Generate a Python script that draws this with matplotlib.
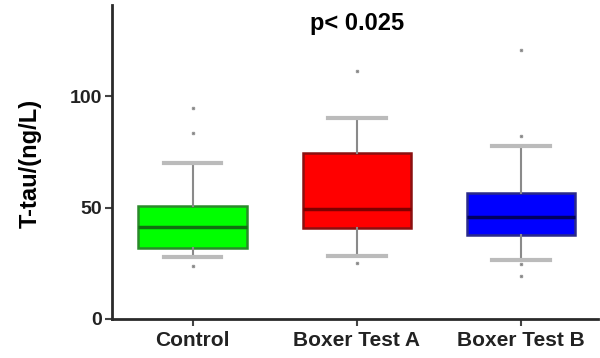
import matplotlib
matplotlib.use("Agg")
import matplotlib.pyplot as plt

plt.rcParams['font.family'] = ['Liberation Sans', 'DejaVu Sans']

groups = ["Control", "Boxer Test A", "Boxer Test B"]
q1 = [32.0, 40.9, 37.5]
med = [41.4, 49.2, 45.6]
q3 = [50.7, 74.4, 56.8]
whislo = [27.8, 28.3, 26.6]
whishi = [70.0, 90.4, 77.9]
fliers = [[94.9, 83.7, 23.8], [111.2, 25.0], [120.6, 82.1, 24.7, 19.3]]

face = ["#00ff00", "#ff0000", "#0000ff"]
edge = ["#2a8a2a", "#8b1010", "#2a2a8a"]
medc = ["#107010", "#800000", "#000060"]

stats = []
for i, g in enumerate(groups):
    stats.append(dict(label=g, q1=q1[i], med=med[i], q3=q3[i],
                      whislo=whislo[i], whishi=whishi[i], fliers=fliers[i]))

fig = plt.figure(figsize=(6, 3.58), dpi=100)
ax = fig.add_axes([0.187, 0.109, 0.81, 0.877])

bp = ax.bxp(stats, positions=[1, 2, 3], widths=0.66, patch_artist=True,
            capwidths=0.35,
            whiskerprops=dict(color="#8a8a8a", linewidth=1.5),
            capprops=dict(color="#bbbbbb", linewidth=3),
            flierprops=dict(marker="s", markersize=2, markerfacecolor="#555555",
                            markeredgecolor="#999999", linestyle="none"))
for i, b in enumerate(bp["boxes"]):
    b.set_facecolor(face[i])
    b.set_edgecolor(edge[i])
    b.set_linewidth(1.8)
for i, m in enumerate(bp["medians"]):
    m.set_color(medc[i])
    m.set_linewidth(2.5)

ax.set_xlim(0.51, 3.47)
ax.set_ylim(0, 141)
ax.set_yticks([0, 50, 100])
ax.spines["top"].set_visible(False)
ax.spines["right"].set_visible(False)
for s in ["left", "bottom"]:
    ax.spines[s].set_linewidth(2)
    ax.spines[s].set_color("#2a2a2a")
ax.tick_params(axis="both", width=1.5, length=5, color="#444444",
               labelcolor="#222222")
ax.tick_params(axis="x", labelsize=15, pad=4)
ax.tick_params(axis="y", labelsize=14, pad=2)
for lab in ax.get_xticklabels() + ax.get_yticklabels():
    lab.set_fontweight("bold")
ax.set_ylabel("T-tau/(ng/L)", fontsize=17, fontweight="bold", va="center")
ax.yaxis.set_label_coords(-0.169, 0.495)
ax.text(2.0, 132.7, "p< 0.025", ha="center", va="center", fontsize=17,
        fontweight="bold")

fig.savefig("out.png", dpi=100)
